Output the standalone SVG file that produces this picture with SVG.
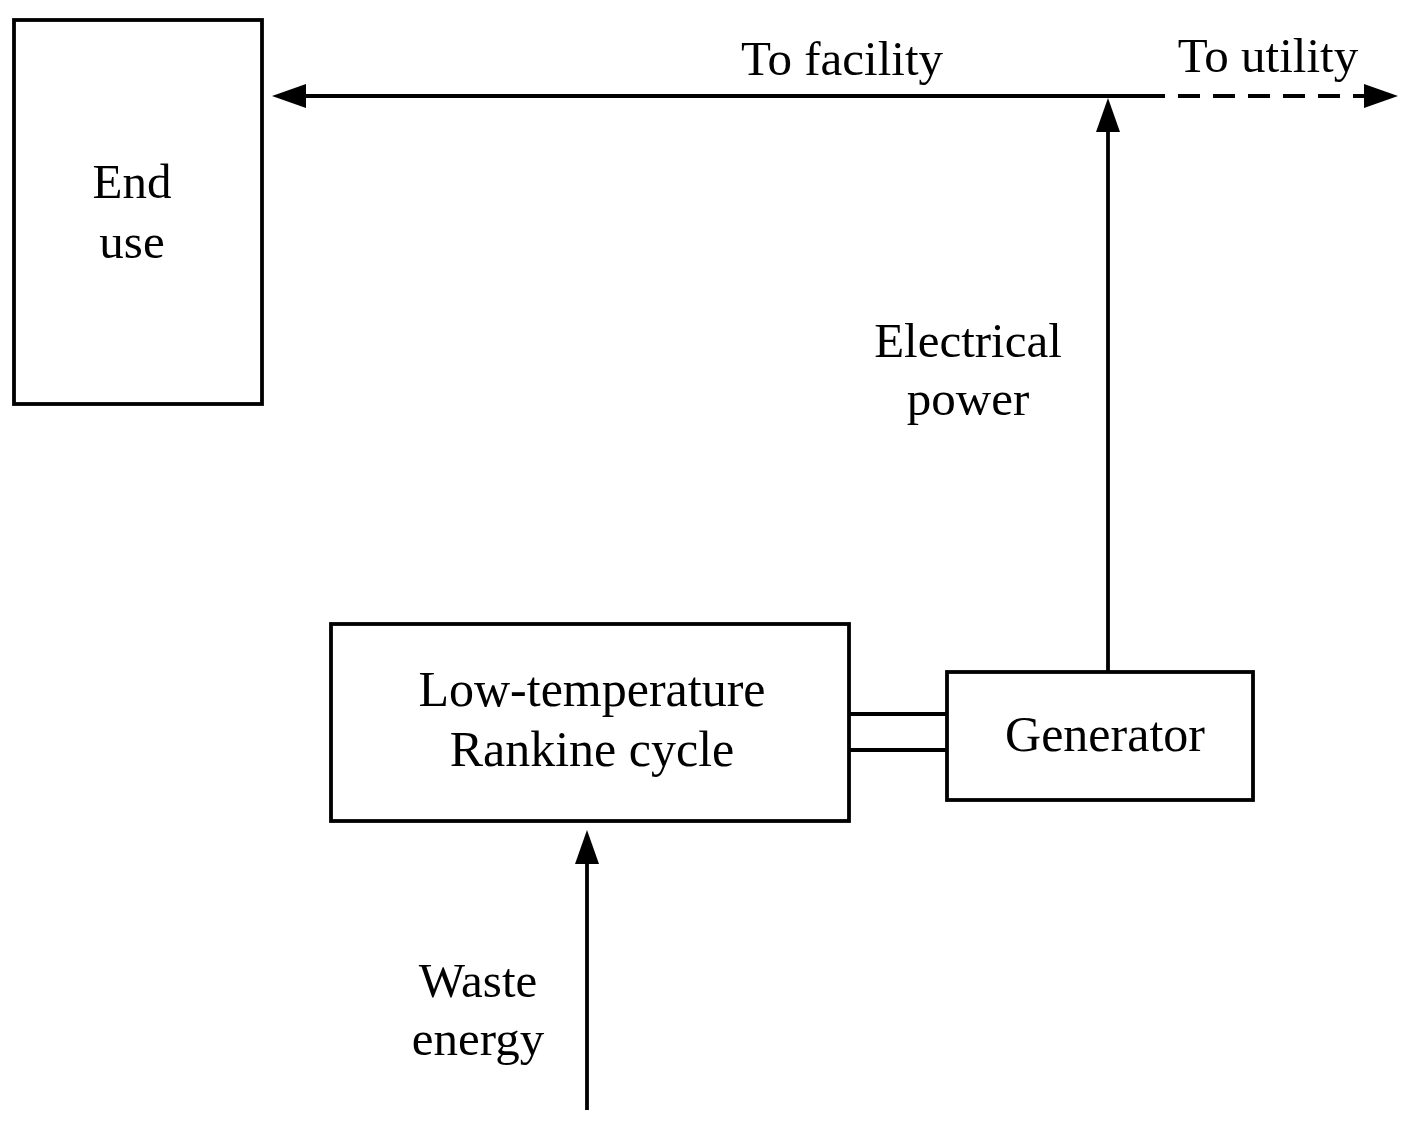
<svg xmlns="http://www.w3.org/2000/svg" width="1403" height="1121" viewBox="0 0 1403 1121">
<style>
.box{fill:#fff;stroke:#000;stroke-width:3.8}
.ln{fill:none;stroke:#000;stroke-width:3.8}
.t{font-family:"Liberation Serif","Times New Roman",serif;font-size:49px;fill:#000;text-anchor:middle}
.w{font-size:50px}
</style>
<defs>
<marker id="ah" viewBox="0 0 34 24" refX="28" refY="12" markerWidth="34" markerHeight="24" markerUnits="userSpaceOnUse" orient="auto">
<path d="M0,0 L34,12 L0,24 Z" fill="#000"/>
</marker>
</defs>
<rect width="1403" height="1121" fill="#fff"/>
<g id="connectors">
<line class="ln" x1="1108" y1="96" x2="278" y2="96" marker-end="url(#ah)"/>
<line class="ln" x1="1108" y1="96" x2="1165" y2="96"/>
<line class="ln" x1="1165" y1="96" x2="1392" y2="96" stroke-dasharray="22,13" stroke-dashoffset="-13" marker-end="url(#ah)"/>
<line class="ln" x1="1108" y1="672" x2="1108" y2="104" marker-end="url(#ah)"/>
<line class="ln" x1="587" y1="1110" x2="587" y2="836" marker-end="url(#ah)"/>
<line class="ln" x1="849" y1="714" x2="947" y2="714"/>
<line class="ln" x1="849" y1="750" x2="947" y2="750"/>
</g>
<g id="end-use">
<rect class="box" x="14" y="20" width="248" height="384"/>
<text class="t" x="132" y="198">End</text>
<text class="t" x="132" y="258">use</text>
</g>
<g id="rankine">
<rect class="box" x="331" y="624" width="518" height="197"/>
<text class="t w" x="592" y="706">Low-temperature</text>
<text class="t w" x="592" y="766">Rankine cycle</text>
</g>
<g id="generator">
<rect class="box" x="947" y="672" width="306" height="128"/>
<text class="t w" x="1105" y="751">Generator</text>
</g>
<g id="labels">
<text class="t" x="842" y="75">To facility</text>
<text class="t" x="1268" y="72">To utility</text>
<text class="t" x="968" y="357">Electrical</text>
<text class="t" x="968" y="415">power</text>
<text class="t" x="478" y="997">Waste</text>
<text class="t" x="478" y="1055">energy</text>
</g>
</svg>
